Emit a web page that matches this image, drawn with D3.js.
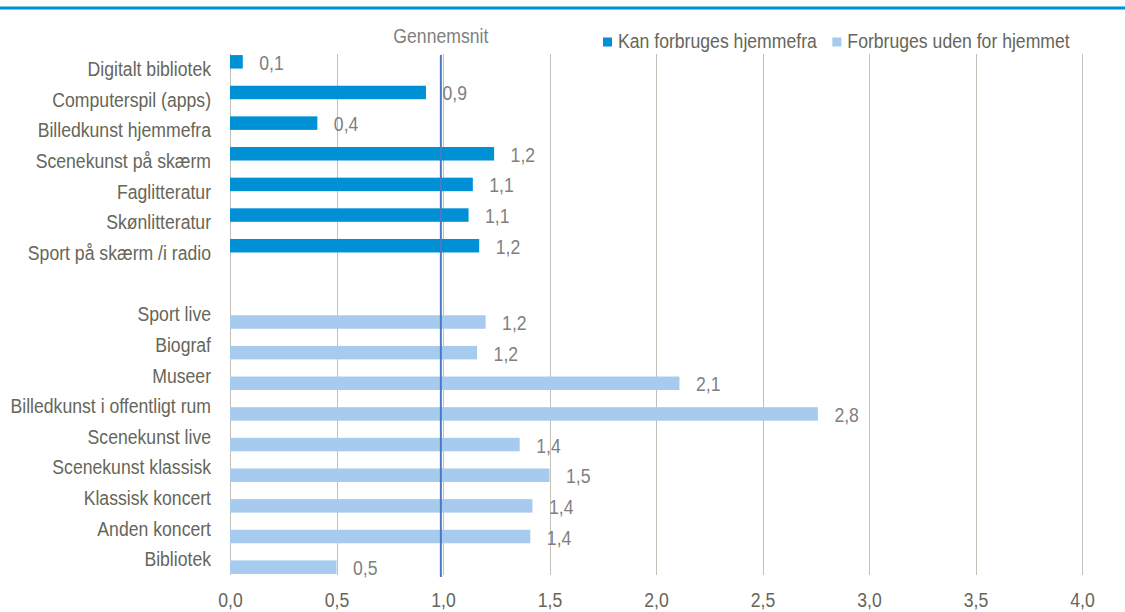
<!DOCTYPE html>
<html>
<head>
<meta charset="utf-8">
<script src="https://cdn.jsdelivr.net/npm/d3@7"></script>
<style>
  html, body { margin: 0; padding: 0; background: #fff; }
  svg { display: block; }
  text { font-family: 'Liberation Sans', Arial, sans-serif; }
</style>
</head>
<body>
<svg id="chart" width="1125" height="612"></svg>
<script>
const categories = [
  "Digitalt bibliotek", "Computerspil (apps)", "Billedkunst hjemmefra", "Scenekunst på skærm",
  "Faglitteratur", "Skønlitteratur", "Sport på skærm /i radio", "",
  "Sport live", "Biograf", "Museer", "Billedkunst i offentligt rum", "Scenekunst live",
  "Scenekunst klassisk", "Klassisk koncert", "Anden koncert", "Bibliotek"
];
const seriesNames = ["Kan forbruges hjemmefra", "Forbruges uden for hjemmet"];
const hjemmefraValues = [0.06, 0.92, 0.41, 1.24, 1.14, 1.12, 1.17, null,
  null, null, null, null, null, null, null, null, null];
const udenforValues = [null, null, null, null, null, null, null, null,
  1.20, 1.16, 2.11, 2.76, 1.36, 1.50, 1.42, 1.41, 0.50];
const averageValue = 0.99;
const averageLabel = "Gennemsnit";
const xTicks = [0, 0.5, 1, 1.5, 2, 2.5, 3, 3.5, 4];

const colors = ["#0090d6", "#a6cbee"];
const fontSize = 21;
const narrow = 0.84; // horizontal condensation to mimic a narrow face

const svg = d3.select("#chart");
const W = 1125;

const x = d3.scaleLinear().domain([0, 4]).range([230, 1082]);
const y = d3.scaleBand().domain(categories).range([54, 575]).paddingInner(0).paddingOuter(0);
const sub = d3.scaleBand().domain(seriesNames).range([0, y.bandwidth()])
  .paddingInner(0.1).paddingOuter(0.072);

const locale = d3.formatLocale({decimal: ",", thousands: ".", grouping: [3], currency: ["", " kr"]});
const fmt = locale.format(".1f");

function placeText(sel, px, py) {
  return sel.attr("transform", `translate(${px},${py}) scale(${narrow},1)`);
}

// top rule
svg.append("rect").attr("x", 0).attr("y", 6.5).attr("width", W).attr("height", 3).attr("fill", "#0090d6");

// gridlines
svg.append("g").selectAll("line").data(xTicks).join("line")
  .attr("x1", d => Math.round(x(d)) + 0.5).attr("x2", d => Math.round(x(d)) + 0.5)
  .attr("y1", y.range()[0]).attr("y2", y.range()[1])
  .attr("stroke", "#c3c0b8").attr("stroke-width", 1);

// bars
const rows = categories.map((c, i) => ({cat: c, vals: [hjemmefraValues[i], udenforValues[i]]}));
const barData = [];
rows.forEach(r => r.vals.forEach((v, j) => { if (v != null) barData.push({cat: r.cat, s: j, v}); }));

svg.append("g").selectAll("rect").data(barData).join("rect")
  .attr("x", x(0))
  .attr("y", d => y(d.cat) + sub(seriesNames[d.s]))
  .attr("width", d => x(d.v) - x(0))
  .attr("height", sub.bandwidth())
  .attr("fill", d => colors[d.s]);

// data labels
svg.append("g").selectAll("text").data(barData).join("text")
  .each(function(d) {
    placeText(d3.select(this), x(d.v) + 16.5, y(d.cat) + sub(seriesNames[d.s]) + sub.bandwidth() / 2 + 8);
  })
  .attr("font-size", fontSize)
  .attr("fill", "#7f7f7f")
  .text(d => fmt(d.v));

// average line
svg.append("line")
  .attr("x1", x(averageValue)).attr("x2", x(averageValue))
  .attr("y1", 55).attr("y2", 577)
  .attr("stroke", "#4a7bc2").attr("stroke-width", 2);
placeText(svg.append("text"), x(averageValue), 43)
  .attr("text-anchor", "middle")
  .attr("font-size", fontSize)
  .attr("fill", "#7f7f7f")
  .text(averageLabel);

// y axis labels
const yAxis = svg.append("g").attr("transform", `translate(${x(0)},0)`)
  .call(d3.axisLeft(y).tickSize(0).tickPadding(19 / narrow));
yAxis.select(".domain").remove();
yAxis.selectAll("text").attr("font-size", fontSize).attr("fill", "#66665a")
  .attr("transform", `scale(${narrow},1)`);

// x axis labels
const xAxis = svg.append("g").attr("transform", `translate(0,${y.range()[1]})`)
  .call(d3.axisBottom(x).tickValues(xTicks).tickFormat(fmt).tickSize(0).tickPadding(17));
xAxis.select(".domain").remove();
xAxis.selectAll("text").attr("font-size", fontSize).attr("fill", "#66665a")
  .attr("transform", `scale(${narrow},1)`);

// legend
const legend = svg.append("g");
let lx = 603;
seriesNames.forEach((name, i) => {
  legend.append("rect").attr("x", lx).attr("y", 37.5).attr("width", 9).attr("height", 9).attr("fill", colors[i]);
  const t = placeText(legend.append("text"), lx + 15, 48)
    .attr("font-size", fontSize).attr("fill", "#66665a").text(name);
  lx = lx + 15 + t.node().getComputedTextLength() * narrow + 15.5;
});
</script>
</body>
</html>
